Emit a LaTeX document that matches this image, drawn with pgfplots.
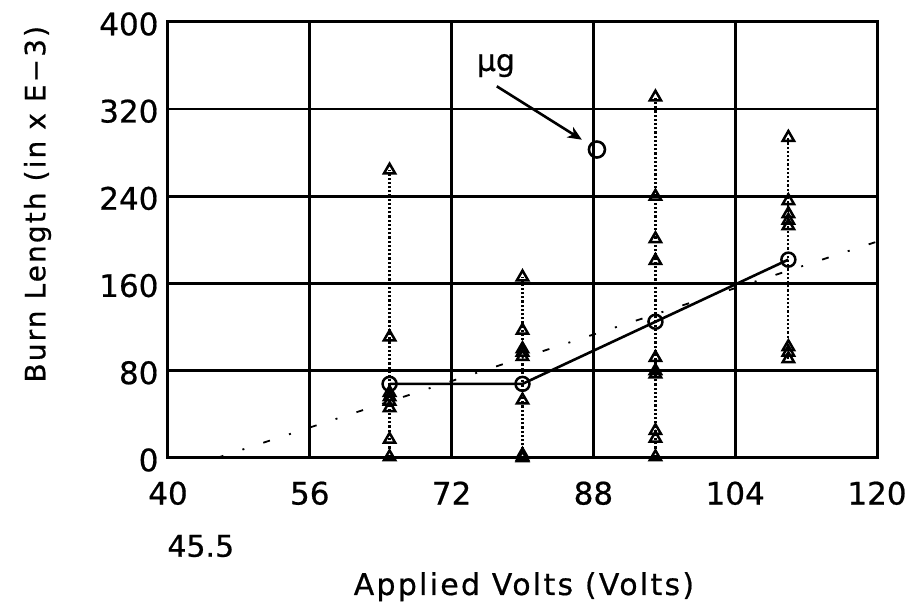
\documentclass[border=0pt]{standalone}
\usepackage{fontspec}
\setmainfont{DejaVu Sans}[FakeBold=0.6]
\usepackage{pgfplots}
\pgfplotsset{compat=1.18}
\usetikzlibrary{arrows.meta}
\begin{document}
\begin{tikzpicture}[x=1pt,y=1pt]
\path[use as bounding box] (-168,-146) rectangle (745,458);
\begin{axis}[
  at={(0,0)}, anchor=south west,
  scale only axis, width=709pt, height=436pt,
  xmin=40, xmax=120, ymin=0, ymax=400,
  xtick={40,56,72,88,104,120}, ytick={0,80,160,240,320,400},
  grid=major, major grid style={line width=2.6pt, black},
  axis line style={line width=3pt},
  major tick length=0pt,
  clip=false,
  /pgf/number format/assume math mode=true,
  ticklabel style={font=\fontsize{31}{34}\selectfont},
  xticklabel style={yshift=-20pt},
  yticklabel style={xshift=-6pt, yshift=-2pt},
  xlabel={Applied Volts (Volts)},
  ylabel={Burn Length (in x E−3)},
  xlabel style={font=\fontsize{30}{34}\selectfont\addfontfeatures{LetterSpace=7.5},
     at={(axis description cs:0.502,0)}, yshift=-137pt, anchor=base},
  ylabel style={font=\fontsize{28}{32}\selectfont\addfontfeatures{LetterSpace=7.5},
     at={(axis description cs:-0.184,0.582)}, anchor=center},
]
% trend line (dash-dot, sparse)
\addplot[black, line width=1.8pt, dash pattern=on 7pt off 20pt on 2pt off 20pt] coordinates {(45.5,0) (120,198.5)};
% dotted ranges
\addplot[black, line width=2.2pt, dotted] coordinates {(65,1) (65,264)};
\addplot[black, line width=2.2pt, dotted] coordinates {(80,0) (80,166)};
\addplot[black, line width=2.2pt, dotted] coordinates {(95,1) (95,331)};
\addplot[black, line width=2.2pt, dotted] coordinates {(110,91) (110,294)};
% individual measurements
\addplot[only marks, mark=triangle, mark size=6.5pt, mark options={line width=2.5pt, fill=none, draw=black}] coordinates {
 (65,264) (65,111) (65,60) (65,56) (65,52) (65,46) (65,17) (65,1)
 (80,166) (80,117) (80,100) (80,97) (80,93) (80,53) (80,3) (80,1) (80,0)
 (95,331) (95,240) (95,201) (95,181) (95,92) (95,80) (95,77) (95,25) (95,18) (95,1)
 (110,294) (110,236) (110,224) (110,218) (110,213) (110,102) (110,97) (110,91)
};
% means
\addplot[black, line width=2.6pt, mark=o, mark size=7pt, mark options={line width=2.5pt, fill=none, solid}] coordinates {(65,68) (80,68) (95,125) (110,182)};
% mu g point
\addplot[only marks, mark=o, mark size=8pt, mark options={line width=2.6pt, fill=none, draw=black}] coordinates {(88.4,283)};
\draw[line width=2.6pt, -{Stealth[length=14pt, width=12pt, inset=4pt]}] (axis cs:77.1,341) -- (axis cs:86.7,292);
\node[font=\fontsize{30}{34}\selectfont] at (axis cs:77,360) {µg};
\node[font=\fontsize{30}{34}\selectfont] at (axis cs:43.7,0) [yshift=-88pt] {45.5};
\end{axis}
\end{tikzpicture}
\end{document}
